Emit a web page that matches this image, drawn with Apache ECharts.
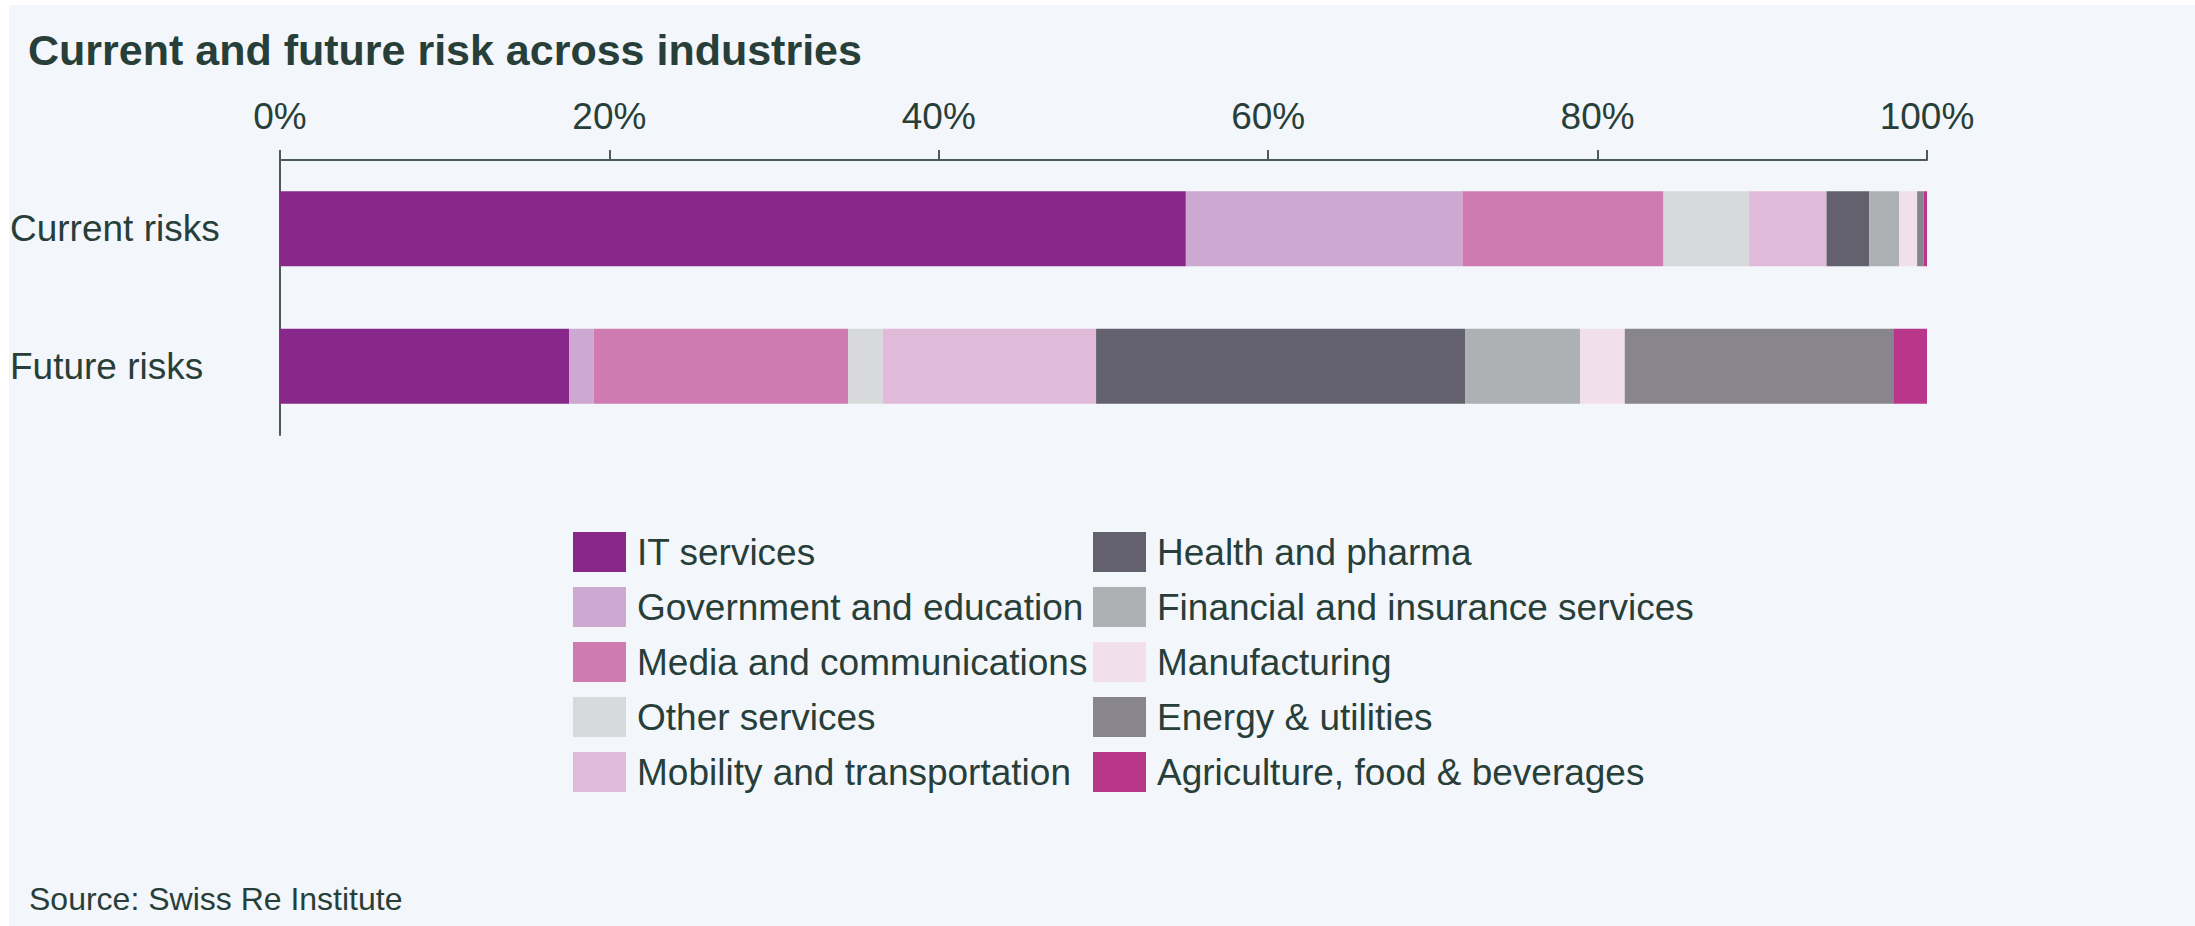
<!DOCTYPE html>
<html>
<head>
<meta charset="utf-8">
<script src="https://cdn.jsdelivr.net/npm/echarts@6/dist/echarts.min.js"></script>
<style>
html,body{margin:0;padding:0;background:#ffffff;}
#chart{width:2195px;height:926px;}
</style>
</head>
<body>
<div id="chart"></div>
<script>
const categories = ['Current risks', 'Future risks'];
const industries = ['IT services', 'Government and education', 'Media and communications', 'Other services', 'Mobility and transportation',
  'Health and pharma', 'Financial and insurance services', 'Manufacturing', 'Energy & utilities', 'Agriculture, food & beverages'];
const currentRisks = [55.0, 16.8, 12.2, 5.2, 4.7, 2.6, 1.8, 1.1, 0.4, 0.2];
const futureRisks = [17.55, 1.5, 15.45, 2.1, 12.95, 22.4, 7.0, 2.7, 16.3, 2.05];
const tickValues = [0, 20, 40, 60, 80, 100];
const colors = ['#87288a', '#cda9d1', '#cf7bb1', '#d7d9db', '#e2bad9', '#64616e', '#adb1b4', '#f1dfee', '#89858f', '#b9378a'];
const titleText = 'Current and future risk across industries';
const sourceText = 'Source: Swiss Re Institute';

const FONT = '"Liberation Sans", Arial, Helvetica, sans-serif';
const TXT = '#283f39';
const AX = '#4b5c58';

const chart = echarts.init(document.getElementById('chart'), null, {renderer: 'svg'});

const series = industries.map((name, i) => ({
  name: name,
  type: 'bar',
  stack: 'total',
  barWidth: 75,
  itemStyle: {color: colors[i]},
  emphasis: {disabled: true},
  data: [currentRisks[i], futureRisks[i]]
}));

const legendBase = {
  orient: 'vertical',
  top: 532,
  padding: 0,
  itemWidth: 53,
  itemHeight: 40,
  itemGap: 15,
  icon: 'rect',
  selectedMode: false,
  textStyle: {fontSize: 37, color: TXT, fontFamily: FONT, padding: [0, 0, 0, 6], lineHeight: 40}
};

chart.setOption({
  backgroundColor: 'transparent',
  animation: false,
  color: colors,
  graphic: [
    {type: 'rect', z: -100, silent: true, shape: {x: 9, y: 5, width: 2195, height: 926}, style: {fill: '#f3f6fb'}},
    {type: 'text', left: 28, top: 28, style: {text: titleText, font: 'bold 43px ' + FONT, fill: TXT}},
    {type: 'text', left: 29, top: 883, style: {text: sourceText, font: '32px ' + FONT, fill: TXT}}
  ],
  grid: {left: 280, right: 268, top: 160, height: 275, containLabel: false},
  xAxis: {
    type: 'value',
    position: 'top',
    min: 0, max: 100, interval: 20,
    axisLine: {show: true, lineStyle: {color: AX, width: 2}},
    axisTick: {show: true, length: 10, lineStyle: {color: AX, width: 2}, customValues: tickValues},
    splitLine: {show: false},
    axisLabel: {fontSize: 37, color: TXT, fontFamily: FONT, margin: 25, formatter: '{value}%', customValues: tickValues}
  },
  yAxis: {
    type: 'category',
    inverse: true,
    data: categories,
    axisLine: {show: true, lineStyle: {color: AX, width: 2}},
    axisTick: {show: false},
    splitLine: {show: false},
    axisLabel: {fontSize: 37, color: TXT, fontFamily: FONT, align: 'left', margin: 270}
  },
  legend: [
    Object.assign({}, legendBase, {left: 573, data: industries.slice(0, 5)}),
    Object.assign({}, legendBase, {left: 1093, data: industries.slice(5)})
  ],
  series: series
});
</script>
</body>
</html>
